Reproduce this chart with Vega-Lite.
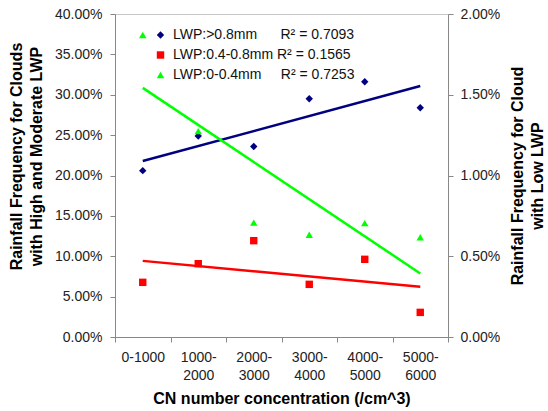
{
  "$schema": "https://vega.github.io/schema/vega-lite/v6.json",
  "width": 333,
  "height": 323,
  "autosize": {"type": "none"},
  "padding": {"left": 115, "top": 14, "right": 100, "bottom": 74},
  "background": "white",
  "config": {
    "font": "Liberation Sans",
    "view": {"stroke": "#c8c8c8"},
    "axis": {
      "labelFont": "Liberation Sans",
      "labelFontSize": 14,
      "labelColor": "#222222",
      "titleFont": "Liberation Sans",
      "titleFontSize": 16,
      "titleFontWeight": "bold",
      "titleColor": "#000000",
      "titleLineHeight": 20,
      "domainColor": "#888888",
      "tickColor": "#888888",
      "grid": false,
      "tickSize": 5
    },
    "legend": {
      "labelFont": "Liberation Sans",
      "labelFontSize": 14,
      "labelColor": "#111111"
    }
  },
  "datasets": {
    "hm": [
      {"i": 0, "series": "LWP:>0.8mm", "v": 0.206},
      {"i": 1, "series": "LWP:>0.8mm", "v": 0.249},
      {"i": 2, "series": "LWP:>0.8mm", "v": 0.236},
      {"i": 3, "series": "LWP:>0.8mm", "v": 0.295},
      {"i": 4, "series": "LWP:>0.8mm", "v": 0.316},
      {"i": 5, "series": "LWP:>0.8mm", "v": 0.284},
      {"i": 0, "series": "LWP:0.4-0.8mm", "v": 0.0677},
      {"i": 1, "series": "LWP:0.4-0.8mm", "v": 0.0908},
      {"i": 2, "series": "LWP:0.4-0.8mm", "v": 0.1193},
      {"i": 3, "series": "LWP:0.4-0.8mm", "v": 0.0652},
      {"i": 4, "series": "LWP:0.4-0.8mm", "v": 0.0962},
      {"i": 5, "series": "LWP:0.4-0.8mm", "v": 0.0305}
    ],
    "low": [
      {"i": 0, "series": "LWP:0-0.4mm", "v": 0.0187},
      {"i": 1, "series": "LWP:0-0.4mm", "v": 0.01275},
      {"i": 2, "series": "LWP:0-0.4mm", "v": 0.00708},
      {"i": 3, "series": "LWP:0-0.4mm", "v": 0.00633},
      {"i": 4, "series": "LWP:0-0.4mm", "v": 0.00705},
      {"i": 5, "series": "LWP:0-0.4mm", "v": 0.00618}
    ]
  },
  "layer": [
    {
      "data": {"name": "hm"},
      "layer": [
        {
          "transform": [{"regression": "v", "on": "i", "groupby": ["series"], "extent": [0, 5]}],
          "mark": {"type": "line", "strokeWidth": 2.5},
          "encoding": {
            "x": {"field": "i", "type": "quantitative", "scale": {"domain": [-0.5, 5.5], "nice": false, "zero": false},
              "axis": {"title": "CN number concentration (/cm^3)", "values": [-0.5, 0.5, 1.5, 2.5, 3.5, 4.5, 5.5], "labelOffset": 27.75,
                "labelExpr": "datum.value < 0 ? '0-1000' : datum.value < 1 ? ['1000-','2000'] : datum.value < 2 ? ['2000-','3000'] : datum.value < 3 ? ['3000-','4000'] : datum.value < 4 ? ['4000-','5000'] : datum.value < 5 ? ['5000-','6000'] : ''",
                "labelFlush": false, "labelOverlap": false, "labelBound": false, "labelPadding": 8, "labelLineHeight": 18, "labelBaseline": "top", "titlePadding": 8}},
            "y": {"field": "v", "type": "quantitative", "scale": {"domain": [0, 0.4], "nice": false},
              "axis": {"title": ["Rainfall Frequency for Clouds", "with High and Moderate LWP"], "values": [0, 0.05, 0.1, 0.15, 0.2, 0.25, 0.3, 0.35, 0.4], "format": ".2%", "labelPadding": 8, "titlePadding": 10, "titleY": 142}},
            "stroke": {"field": "series", "type": "nominal", "scale": {"domain": ["LWP:>0.8mm", "LWP:0.4-0.8mm"], "range": ["#000080", "#FF0000"]}, "legend": null}
          }
        },
        {
          "mark": {"type": "point", "filled": true, "size": 55, "opacity": 1},
          "encoding": {
            "x": {"field": "i", "type": "quantitative", "scale": {"domain": [-0.5, 5.5], "nice": false, "zero": false},
              "axis": {"title": "CN number concentration (/cm^3)", "values": [-0.5, 0.5, 1.5, 2.5, 3.5, 4.5, 5.5], "labelOffset": 27.75,
                "labelExpr": "datum.value < 0 ? '0-1000' : datum.value < 1 ? ['1000-','2000'] : datum.value < 2 ? ['2000-','3000'] : datum.value < 3 ? ['3000-','4000'] : datum.value < 4 ? ['4000-','5000'] : datum.value < 5 ? ['5000-','6000'] : ''",
                "labelFlush": false, "labelOverlap": false, "labelBound": false, "labelPadding": 8, "labelLineHeight": 18, "labelBaseline": "top", "titlePadding": 8}},
            "y": {"field": "v", "type": "quantitative", "scale": {"domain": [0, 0.4], "nice": false},
              "axis": {"title": ["Rainfall Frequency for Clouds", "with High and Moderate LWP"], "values": [0, 0.05, 0.1, 0.15, 0.2, 0.25, 0.3, 0.35, 0.4], "format": ".2%", "labelPadding": 8, "titlePadding": 10, "titleY": 142}},
            "color": {"field": "series", "type": "nominal",
              "scale": {"domain": ["LWP:>0.8mm", "LWP:0.4-0.8mm", "LWP:0-0.4mm"], "range": ["#000080", "#FF0000", "#00FF00"]},
              "legend": {"title": null, "orient": "none", "legendX": 38.5, "legendY": 14, "padding": 0, "rowPadding": 6, "labelOffset": 5.5, "labelLimit": 400, "symbolSize": 55,
                "labelExpr": "datum.label == 'LWP:>0.8mm' ? datum.label + '\u00a0\u00a0\u00a0\u00a0\u00a0\u00a0R² = 0.7093' : datum.label == 'LWP:0.4-0.8mm' ? datum.label + '\u00a0R² = 0.1565' : datum.label + '\u00a0\u00a0\u00a0\u00a0\u00a0R² = 0.7253'"}},
            "shape": {"field": "series", "type": "nominal",
              "scale": {"domain": ["LWP:>0.8mm", "LWP:0.4-0.8mm", "LWP:0-0.4mm"], "range": ["diamond", "square", "triangle-up"]}}
          }
        }
      ]
    },
    {
      "data": {"name": "low"},
      "layer": [
        {
          "transform": [{"regression": "v", "on": "i", "extent": [0, 5]}],
          "mark": {"type": "line", "strokeWidth": 2.5, "color": "#00FF00"},
          "encoding": {
            "x": {"field": "i", "type": "quantitative"},
            "y": {"field": "v", "type": "quantitative", "scale": {"domain": [0, 0.02], "nice": false},
              "axis": {"orient": "right", "title": ["Rainfall Frequency for Cloud", "with Low LWP"], "values": [0, 0.005, 0.01, 0.015, 0.02], "format": ".2%", "labelPadding": 7, "titlePadding": 6, "titleAngle": 270}}
          }
        },
        {
          "mark": {"type": "point", "filled": true, "size": 55, "opacity": 1},
          "encoding": {
            "x": {"field": "i", "type": "quantitative"},
            "y": {"field": "v", "type": "quantitative", "scale": {"domain": [0, 0.02], "nice": false},
              "axis": {"orient": "right", "title": ["Rainfall Frequency for Cloud", "with Low LWP"], "values": [0, 0.005, 0.01, 0.015, 0.02], "format": ".2%", "labelPadding": 7, "titlePadding": 6, "titleAngle": 270}},
            "color": {"field": "series", "type": "nominal"},
            "shape": {"field": "series", "type": "nominal"}
          }
        }
      ]
    }
  ],
  "resolve": {"scale": {"y": "independent"}}
}
